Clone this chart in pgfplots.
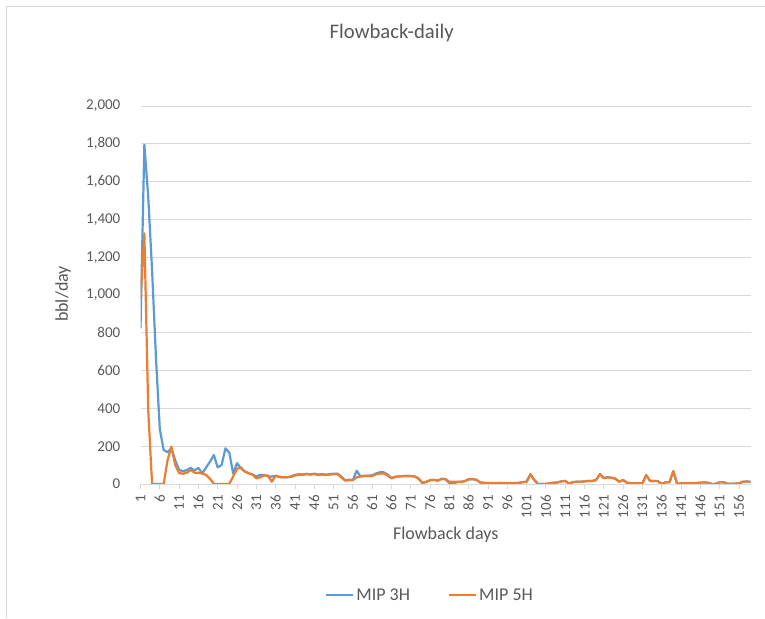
\documentclass[border=0pt]{standalone}
\usepackage{fontspec}
\setmainfont{Carlito}
\usepackage{pgfplots}
\usepackage{pgfplotstable}
\pgfplotsset{compat=1.18}
\definecolor{blueS}{HTML}{5B9BD5}
\definecolor{orangeS}{HTML}{ED7D31}
\definecolor{gridgray}{HTML}{D9D9D9}
\definecolor{labelgray}{HTML}{595959}
\definecolor{bordergray}{HTML}{D9D9D9}

\pgfplotstableread{
day mipA mipB
1 824 982
2 1795 1326
3 1520 391
4 1130 0
5 670 0
6 290 0
7 180 0
8 168 125
9 190 197
10 125 100
11 75 58
12 67 54
13 74 60
14 85 74
15 72 60
16 85 60
17 55 55
18 88 48
19 118 28
20 153 0
21 88 0
22 100 0
23 189 0
24 166 0
25 55 40
26 110 80
27 83 88
28 66 66
29 57 57
30 50 50
31 40 30
32 48 35
33 48 45
34 40 45
35 40 12
36 42 45
37 38 36
38 36 36
39 36 36
40 40 38
41 48 45
42 52 48
43 50 48
44 54 52
45 50 50
46 55 52
47 50 48
48 52 50
49 50 48
50 52 50
51 55 52
52 55 53
53 40 35
54 20 18
55 22 20
56 22 20
57 70 35
58 40 40
59 44 42
60 44 42
61 46 42
62 56 52
63 62 56
64 62 56
65 50 45
66 32 30
67 38 38
68 40 40
69 42 42
70 42 42
71 42 42
72 40 40
73 28 30
74 6 7
75 10 12
76 20 20
77 22 22
78 18 18
79 28 26
80 25 26
81 5 12
82 3 12
83 10 12
84 12 12
85 15 15
86 25 25
87 26 25
88 22 22
89 8 8
90 6 6
91 5 5
92 4 5
93 4 5
94 5 6
95 4 5
96 0 4
97 3 5
98 5 5
99 6 6
100 10 10
101 12 12
102 50 53
103 20 21
104 0 0
105 0 0
106 0 0
107 4 5
108 6 7
109 8 8
110 14 14
111 16 16
112 2 2
113 10 10
114 12 12
115 12 12
116 14 14
117 16 16
118 16 16
119 21 21
120 50 53
121 32 30
122 36 35
123 33 33
124 28 28
125 12 12
126 21 21
127 7 7
128 4 4
129 4 4
130 4 4
131 4 4
132 45 48
133 16 16
134 16 16
135 15 15
136 0 0
137 9 9
138 9 9
139 66 69
140 0 0
141 4 4
142 4 4
143 4 4
144 4 4
145 5 5
146 7 7
147 8 8
148 7 7
149 0 0
150 1 1
151 9 9
152 9 9
153 2 2
154 2 2
155 2 2
156 3 3
157 12 12
158 13 13
159 12 12
}\datatable

\begin{document}
\begin{tikzpicture}
\path[use as bounding box] (0pt,0pt) rectangle (765pt,618pt);
\fill[white] (0pt,0pt) rectangle (765pt,618pt);
\draw[bordergray, line width=0.8pt] (6.3pt,0pt) -- (6.3pt,611.7pt) -- (765pt,611.7pt);
\begin{axis}[
  at={(140.5pt,134pt)}, anchor=south west,
  scale only axis, width=610pt, height=378pt,
  xmin=1, xmax=159, ymin=0, ymax=2000,
  xtick={1,6,...,156}, ytick={0,200,...,2000},
  ymajorgrids, grid style={draw=gridgray, line width=0.8pt},
  axis x line*=bottom, axis y line*=left,
  x axis line style={draw=gridgray, line width=0.8pt, -},
  y axis line style={draw=none},
  tick align=outside, major tick length=5pt,
  xtick style={draw=gridgray, line width=0.8pt},
  ytick style={draw=none},
  tick label style={font=\fontsize{15}{15}\selectfont, text=labelgray},
  xticklabel style={rotate=90, anchor=east, inner sep=0pt},
  yticklabel style={anchor=east, inner sep=0pt, xshift=-15pt},
  xticklabel shift=6pt,
  /pgf/number format/.cd, 1000 sep={,}, assume math mode=true,
  /pgfplots/.cd,
  legend style={at={(0.4746,-0.2937)}, anchor=center, draw=none, fill=none,
    legend columns=2, font=\fontsize{18}{18}\selectfont, text=labelgray,
    /tikz/every even column/.append style={column sep=36pt},
    legend cell align=left},
  legend image code/.code={\draw[#1, line width=2.2pt] (0pt,0pt) -- (27pt,0pt);},
]
\addplot[blueS, line width=2.2pt, line join=round, no markers] table[x=day, y=mipA] {\datatable};
\addlegendentry{MIP 3H}
\addplot[orangeS, line width=2.2pt, line join=round, no markers] table[x=day, y=mipB] {\datatable};
\addlegendentry{MIP 5H}
\end{axis}
\node[anchor=base, text=labelgray, font=\fontsize{20.7}{20.7}\selectfont] at (391.7pt,579.7pt) {Flowback-daily};
\node[anchor=base, text=labelgray, font=\fontsize{18}{18}\selectfont] at (445.7pt,78pt) {Flowback days};
\node[anchor=center, rotate=90, text=labelgray, font=\fontsize{18}{18}\selectfont] at (63pt,324pt) {bbl/day};
\end{tikzpicture}
\end{document}
